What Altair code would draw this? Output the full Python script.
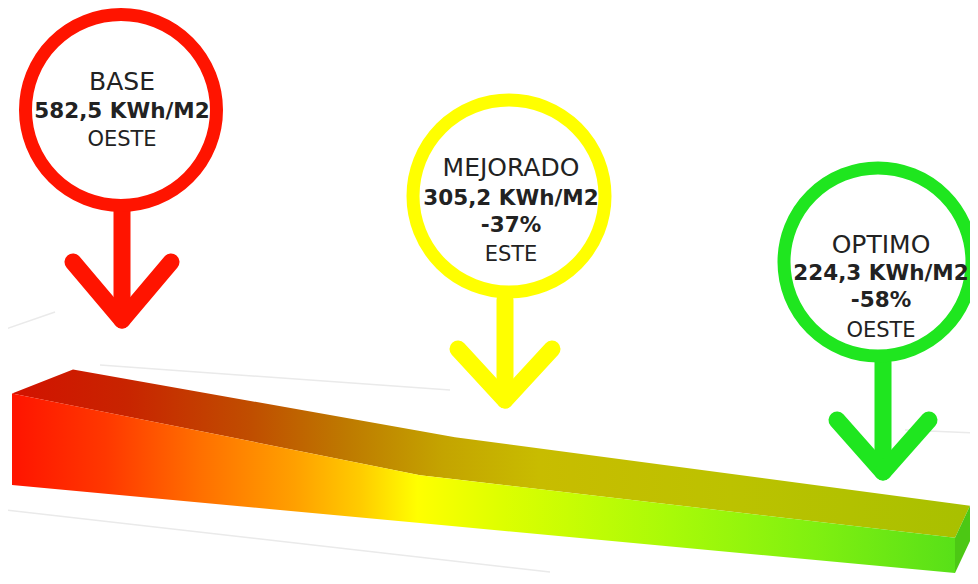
import altair as alt
import pandas as pd
import numpy as np

# ---------------- data ----------------
escenarios = ["BASE", "MEJORADO", "OPTIMO"]
consumo = [582.5, 305.2, 224.3]                      # KWh/M2
consumo_txt = ["582,5 KWh/M2", "305,2 KWh/M2", "224,3 KWh/M2"]
ahorro_txt = ["", "-37%", "-58%"]
orientacion = ["OESTE", "ESTE", "OESTE"]
colores = ["#FF1400", "#FFFF00", "#1FE61F"]

# ---------------- layout (figure pixel space) ----------------
circ_x = [121, 509, 878]
circ_y = [110, 196, 262]
circ_d = [191, 192, 188]
name_y = [82, 167.5, 244.5]
val_y = [112, 199, 274]
pct_y = [None, 225.5, 300.5]
ori_y = [139.5, 254.5, 330.5]
text_x = [122, 511, 881]

# arrows: stem top, tip, arm start
stem_top = [208, 300, 362]
tip_y = [318, 398, 470]
tip_x = [122, 505, 883]
arm_dx = [49, 47, 46]
arm_y = [262, 349, 420]

# 3D ramp
rampa_x = [12, 420, 955]
base_y0, base_y1 = 485, 573
k_px = 0.157
back_dx = [61, 35, 15]
back_dy = [-24, -38, -32]

XD = [8, 970]
YD = [8, 576]
xs = alt.Scale(domain=XD, nice=False, zero=False)
ys = alt.Scale(domain=YD, reverse=True, nice=False, zero=False)


def base_at(x):
    return base_y0 + (x - rampa_x[0]) * (base_y1 - base_y0) / (rampa_x[-1] - rampa_x[0])


front_top = [base_at(x) - k_px * v for x, v in zip(rampa_x, consumo)]
front_bot = [base_at(x) for x in rampa_x]
back_x = [x + d for x, d in zip(rampa_x, back_dx)]
back_y = [y + d for y, d in zip(front_top, back_dy)]

front_df = pd.DataFrame({"x": rampa_x, "y": front_top, "y2": front_bot})

tx = sorted(rampa_x + back_x)
up, lo = [], []
for x in tx:
    if x < back_x[0]:
        up.append(front_top[0])
    else:
        up.append(float(np.interp(x, back_x, back_y)))
    if x > rampa_x[-1]:
        lo.append(back_y[-1])
    else:
        lo.append(float(np.interp(x, rampa_x, front_top)))
top_df = pd.DataFrame({"x": tx, "y": up, "y2": lo})

side_df = pd.DataFrame({
    "x": [rampa_x[-1], back_x[-1]],
    "y": [front_top[-1], back_y[-1]],
    "y2": [front_bot[-1], front_bot[-1] + back_dy[-1]],
})


def grad(stops):
    return alt.Gradient(
        gradient="linear",
        stops=[alt.GradientStop(offset=o, color=c) for o, c in stops],
        x1=0, x2=1, y1=0, y2=0,
    )


front_grad = grad([
    (0.0, "#FF1400"), (0.1, "#FF3800"), (0.2, "#FF7000"), (0.3, "#FFA000"),
    (0.37, "#FFCC00"), (0.43, "#FFFF00"), (0.52, "#DDFF00"),
    (0.7, "#A8FA08"), (0.85, "#80F010"), (1.0, "#58E018"),
])
top_grad = grad([
    (0.0, "#D21200"), (0.12, "#C82400"), (0.25, "#C04E00"), (0.35, "#BE7A00"),
    (0.45, "#C4A400"), (0.55, "#C8BC00"), (0.75, "#BCC200"), (1.0, "#A8C000"),
])

enc_area = dict(
    x=alt.X("x:Q", scale=xs, axis=None),
    y=alt.Y("y:Q", scale=ys, axis=None),
    y2="y2:Q",
)

front = alt.Chart(front_df).mark_area(fill=front_grad, clip=True).encode(**enc_area)
topf = alt.Chart(top_df).mark_area(fill=top_grad, clip=True).encode(**enc_area)
side = alt.Chart(side_df).mark_area(color="#4CC814", clip=True).encode(**enc_area)

# faint background guide lines
guia_df = pd.DataFrame({
    "x": [3, 100, 5, 905], "y": [330, 365, 510, 430],
    "x2": [55, 450, 550, 975], "y2": [312, 390, 572, 433],
})
guias = alt.Chart(guia_df).mark_rule(color="#EAEAEA", strokeWidth=1.5, clip=True).encode(
    x=alt.X("x:Q", scale=xs, axis=None), y=alt.Y("y:Q", scale=ys, axis=None),
    x2="x2:Q", y2="y2:Q",
)

# arrows
arr_rows = []
for i in range(3):
    c = colores[i]
    arr_rows.append(dict(x=tip_x[i], y=stem_top[i], x2=tip_x[i], y2=tip_y[i], c=c))
    arr_rows.append(dict(x=tip_x[i] - arm_dx[i], y=arm_y[i], x2=tip_x[i], y2=tip_y[i] + 2, c=c))
    arr_rows.append(dict(x=tip_x[i] + arm_dx[i], y=arm_y[i], x2=tip_x[i], y2=tip_y[i] + 2, c=c))
arr_df = pd.DataFrame(arr_rows)
arrows = alt.Chart(arr_df).mark_rule(strokeWidth=17, strokeCap="round", clip=True).encode(
    x=alt.X("x:Q", scale=xs, axis=None), y=alt.Y("y:Q", scale=ys, axis=None),
    x2="x2:Q", y2="y2:Q", color=alt.Color("c:N", scale=None),
)

circ_df = pd.DataFrame({
    "x": circ_x, "y": circ_y, "s": [d * d for d in circ_d], "c": colores,
})
circles = alt.Chart(circ_df).mark_point(
    shape="circle", filled=False, strokeWidth=13, opacity=1, clip=True
).encode(
    x=alt.X("x:Q", scale=xs, axis=None), y=alt.Y("y:Q", scale=ys, axis=None),
    size=alt.Size("s:Q", scale=None), stroke=alt.Stroke("c:N", scale=None),
)

txt_df = pd.DataFrame({
    "x": text_x, "name_y": name_y, "val_y": val_y, "pct_y": pct_y, "ori_y": ori_y,
    "name": escenarios, "val": consumo_txt, "pct": ahorro_txt, "ori": orientacion,
})


def text_layer(ycol, tcol, size, weight):
    df = txt_df[txt_df[ycol].notna() & (txt_df[tcol] != "")]
    return alt.Chart(df).mark_text(
        font="DejaVu Sans", fontSize=size, fontWeight=weight, color="#222222",
        align="center", baseline="middle",
    ).encode(
        x=alt.X("x:Q", scale=xs, axis=None), y=alt.Y(f"{ycol}:Q", scale=ys, axis=None),
        text=f"{tcol}:N",
    )


t_name = text_layer("name_y", "name", 25, "normal")
t_val = text_layer("val_y", "val", 21.5, "bold")
t_pct = text_layer("pct_y", "pct", 21.5, "bold")
t_ori = text_layer("ori_y", "ori", 21, "normal")

chart = alt.layer(
    guias, topf, front, side, arrows, circles, t_name, t_val, t_pct, t_ori
).properties(
    width=962, height=568, padding=0,
    autosize=alt.AutoSizeParams(type="none"),
).configure_view(stroke=None)

chart.save("out.html", embed_options={"renderer": "svg", "actions": False})
